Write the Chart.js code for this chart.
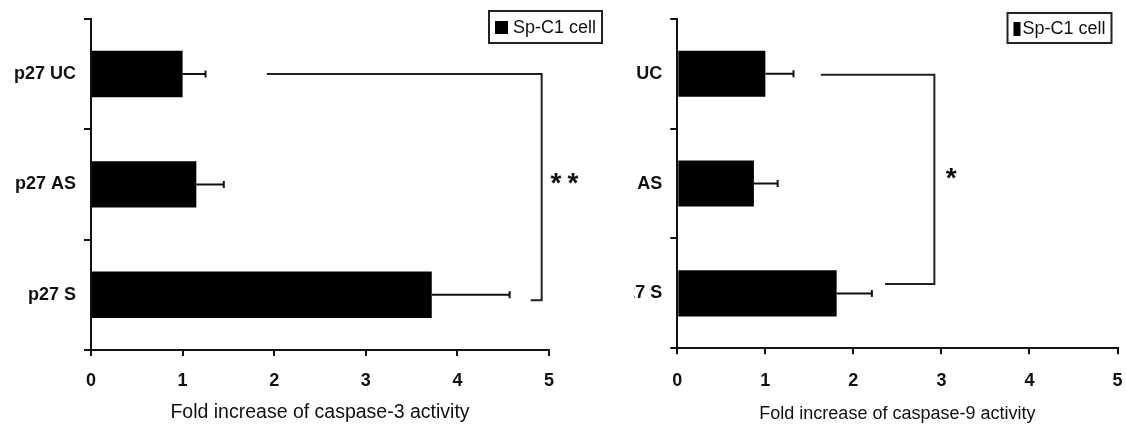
<!DOCTYPE html>
<html lang="en">
<head>
<meta charset="UTF-8">
<title>Caspase activity, Sp-C1 cell</title>
<style>
  body { margin: 0; background: #fff; width: 1126px; height: 425px; overflow: hidden; position: relative; }
  canvas { position: absolute; top: 0; }
  #chart3 { left: 0; }
  #chart9 { left: 634px; }
</style>
</head>
<body>
<canvas id="chart3" width="630" height="425"></canvas>
<canvas id="chart9" width="530" height="425"></canvas>

<script src="https://cdn.jsdelivr.net/npm/chart.js"></script>
<script>
// data
const groups = ['p27 UC', 'p27 AS', 'p27 S'];
const seriesName = 'Sp-C1 cell';

const casp3 = [1.0, 1.15, 3.72];
const casp3Err = [0.25, 0.30, 0.85];
const casp9 = [1.0, 0.87, 1.81];
const casp9Err = [0.32, 0.27, 0.40];

// significance brackets: x of top arm start, x of vertical, x of bottom arm start
const bracket3X = [1.92, 4.92, 4.80];
const bracket3Y = [0, 2.05];
const bracket9X = [1.63, 2.92, 2.36];
const bracket9Y = [0.01, 1.915];
// star marks: [x value, category position]
const star3 = [5.17, 0.98];
const star9 = [3.11, 0.94];

const ink = '#111';
Chart.defaults.font.family = "'Liberation Sans', Arial, sans-serif";
Chart.defaults.color = ink;

// error bars, drawn from the values through the x scale
const errorBars = {
  id: 'errorBars',
  afterDatasetsDraw(chart, args, opts) {
    const ctx = chart.ctx;
    const xs = chart.scales.x;
    const vals = chart.data.datasets[0].data;
    ctx.save();
    ctx.strokeStyle = ink;
    ctx.lineWidth = 2;
    chart.getDatasetMeta(0).data.forEach((bar, i) => {
      const x0 = xs.getPixelForValue(vals[i]);
      const x1 = xs.getPixelForValue(vals[i] + opts.errors[i]);
      ctx.beginPath();
      ctx.moveTo(x0, bar.y);
      ctx.lineTo(x1, bar.y);
      ctx.moveTo(x1, bar.y - 3.5);
      ctx.lineTo(x1, bar.y + 3.5);
      ctx.stroke();
    });
    ctx.restore();
  }
};

// bracket plus stars
const sigBracket = {
  id: 'sigBracket',
  afterDraw(chart, args, opts) {
    const ctx = chart.ctx;
    const xs = chart.scales.x, ys = chart.scales.y;
    const yTop = ys.getPixelForValue(opts.y[0]);
    const yBot = ys.getPixelForValue(opts.y[1]);
    const xV = xs.getPixelForValue(opts.x[1]);
    ctx.save();
    ctx.strokeStyle = '#222';
    ctx.lineWidth = 2;
    ctx.beginPath();
    ctx.moveTo(xs.getPixelForValue(opts.x[0]), yTop);
    ctx.lineTo(xV, yTop);
    ctx.lineTo(xV, yBot);
    ctx.lineTo(xs.getPixelForValue(opts.x[2]), yBot);
    ctx.stroke();

    const sx = xs.getPixelForValue(opts.star[0]);
    const sy = ys.getPixelForValue(opts.star[1]);
    ctx.fillStyle = ink;
    ctx.font = "bold 28px 'Liberation Sans', Arial, sans-serif";
    ctx.textAlign = 'center';
    ctx.textBaseline = 'alphabetic';
    const n = opts.count;
    for (let k = 0; k < n; k++) {
      const off = (k - (n - 1) / 2) * 17;
      ctx.fillText('*', sx + off, sy + 10);
    }
    ctx.restore();
  }
};

// boxed legend in the top right corner
const boxLegend = {
  id: 'boxLegend',
  afterDraw(chart, args, o) {
    const ctx = chart.ctx;
    const left = chart.chartArea.right + o.dx;
    ctx.save();
    ctx.fillStyle = '#fff';
    ctx.fillRect(left, o.top, o.w, o.h);
    ctx.strokeStyle = '#222';
    ctx.lineWidth = 2;
    ctx.strokeRect(left, o.top, o.w, o.h);
    ctx.fillStyle = '#000';
    ctx.fillRect(left + o.mark[0], o.top + o.mark[1], o.mark[2], o.mark[3]);
    ctx.fillStyle = ink;
    ctx.font = o.font;
    ctx.textAlign = 'left';
    ctx.textBaseline = 'middle';
    ctx.fillText(chart.data.datasets[0].label, left + o.textX, o.top + o.h / 2 + 1);
    ctx.restore();
  }
};

function makeChart(id, values, errors, title, cfg) {
  return new Chart(document.getElementById(id), {
    type: 'bar',
    data: {
      labels: groups,
      datasets: [{
        label: seriesName,
        data: values,
        backgroundColor: '#000',
        borderWidth: 0,
        barPercentage: 0.42,
        categoryPercentage: 1
      }]
    },
    options: {
      indexAxis: 'y',
      responsive: false,
      animation: false,
      events: [],
      layout: { padding: { top: 15, left: 0, right: cfg.padRight, bottom: 0 } },
      scales: {
        x: {
          type: 'linear',
          min: 0,
          max: 5,
          ticks: { stepSize: 1, padding: cfg.tickPad, font: { size: 18, weight: 'bold' }, color: ink },
          grid: { drawOnChartArea: false, drawTicks: true, tickLength: 6, color: ink, lineWidth: 2 },
          border: { display: true, color: ink, width: 2 },
          title: { display: true, text: title, font: { size: cfg.titleSize }, color: ink, padding: { top: 0, bottom: cfg.titlePad } },
          afterFit(s) { s.height = cfg.xHeight; }
        },
        y: {
          ticks: { padding: 8, font: { size: 18, weight: 'bold' }, color: ink },
          grid: { drawOnChartArea: false, drawTicks: true, tickLength: 7, color: ink, lineWidth: 2, offset: true },
          border: { display: true, color: ink, width: 2 },
          afterFit(s) { s.width = cfg.yWidth; }
        }
      },
      plugins: {
        legend: { display: false },
        tooltip: { enabled: false },
        errorBars: { errors: errors },
        sigBracket: { x: cfg.bx, y: cfg.by, star: cfg.star, count: cfg.stars },
        boxLegend: cfg.legend
      }
    },
    plugins: [errorBars, sigBracket, boxLegend]
  });
}

makeChart('chart3', casp3, casp3Err, 'Fold increase of caspase-3 activity', {
  padRight: 81, yWidth: 91, xHeight: 75, titleSize: 19.5, titlePad: 1, tickPad: 14,
  bx: bracket3X, by: bracket3Y, star: star3, stars: 2,
  legend: { dx: -60, top: 11, w: 113, h: 32, mark: [6, 10, 13, 13], textX: 24,
            font: "18px 'Liberation Sans', Arial, sans-serif" }
});

makeChart('chart9', casp9, casp9Err, 'Fold increase of caspase-9 activity', {
  padRight: 46.5, yWidth: 43.3, xHeight: 76.7, titleSize: 18, titlePad: 0, tickPad: 16,
  bx: bracket9X, by: bracket9Y, star: star9, stars: 1,
  legend: { dx: -110, top: 13, w: 104, h: 30, mark: [6, 9, 7, 14], textX: 15,
            font: "18px 'Liberation Sans', Arial, sans-serif" }
});
</script>
</body>
</html>
